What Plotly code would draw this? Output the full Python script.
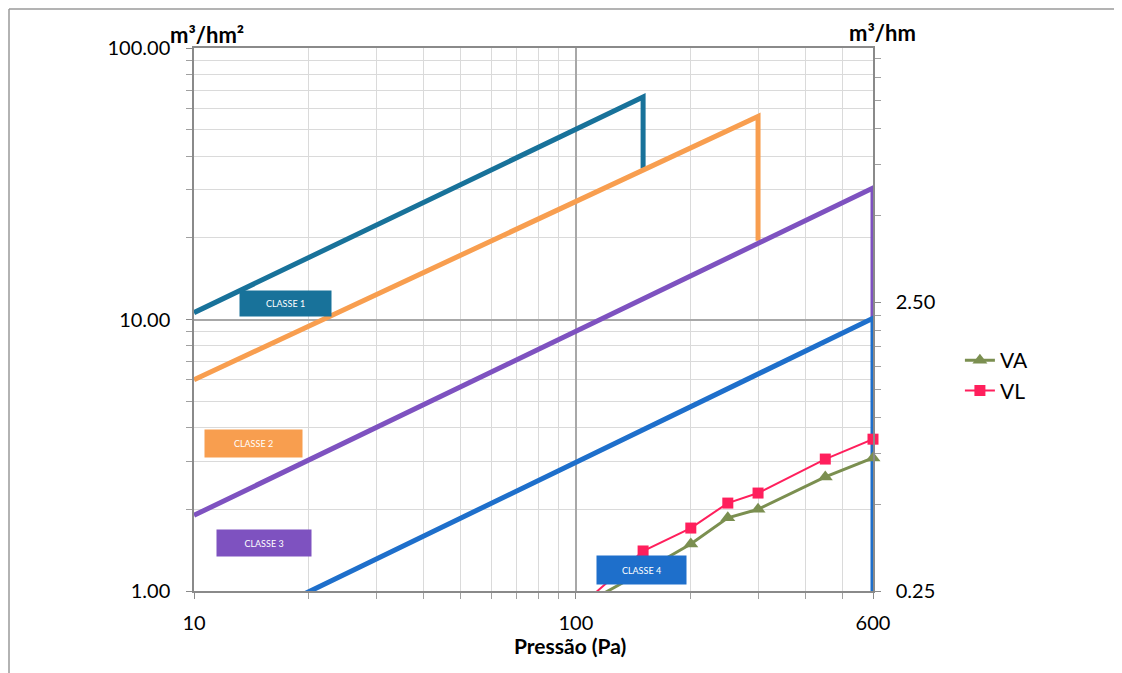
import math
import plotly.graph_objects as go

# ---------------- data ----------------
classe1_p = [10, 150, 150]
classe1_q = [10.6, 66, 36]
classe2_p = [10, 300, 300]
classe2_q = [6.0, 56, 19.5]
classe3_p = [10, 600, 600]
classe3_q = [1.9, 30.5, 10.1]
classe4_p = [10, 600, 600]
classe4_q = [0.62, 10.1, 0.2]

ensaio_p = [100, 150, 200, 250, 300, 450, 600]
va = [0.86, 1.18, 1.49, 1.86, 2.0, 2.63, 3.09]        # m3/hm2 (left axis)
vl = [0.215, 0.344, 0.413, 0.504, 0.546, 0.716, 0.839]  # m3/hm (right axis)

class_labels = ["CLASSE 1", "CLASSE 2", "CLASSE 3", "CLASSE 4"]
x_tickvals = [10, 100, 600]
x_ticktext = ["10", "100", "600"]
y_tickvals = [1, 10, 100]
y_ticktext = ["1.00", "10.00", "100.00"]
y2_tickvals = [0.25, 2.5, 25]
y2_ticktext = ["0.25", "2.50", "25.00"]

# ---------------- styles ----------------
C1 = "#18729a"
C2 = "#f89e4f"
C3 = "#7e52c0"
C4 = "#1e6fcb"
CVA = "#7b8f50"
CVL = "#ff1f5c"
FONT = "Lato"

fig = go.Figure()
for p, q, c in [(classe1_p, classe1_q, C1), (classe2_p, classe2_q, C2),
                (classe3_p, classe3_q, C3), (classe4_p, classe4_q, C4)]:
    fig.add_trace(go.Scatter(x=p, y=q, mode="lines", line=dict(color=c, width=5),
                             showlegend=False, hoverinfo="skip"))

fig.add_trace(go.Scatter(x=ensaio_p, y=va, name="VA", mode="lines+markers",
                         line=dict(color=CVA, width=3),
                         marker=dict(symbol="triangle-up", size=13, color=CVA),
                         cliponaxis=False))
fig.add_trace(go.Scatter(x=ensaio_p, y=vl, name="VL", mode="lines+markers", yaxis="y2",
                         line=dict(color=CVL, width=2),
                         marker=dict(symbol="square", size=11, color=CVL),
                         cliponaxis=False))

x_minor = [20, 30, 40, 50, 60, 70, 80, 90, 200, 300, 400, 500]
y_minor = [2, 3, 4, 5, 6, 7, 8, 9, 20, 30, 40, 50, 60, 70, 80, 90]
y2_minor = [0.5, 0.75, 1, 1.25, 1.5, 1.75, 2, 2.25, 5, 7.5, 10, 12.5, 15, 17.5]

# the page body has an 8px margin, so the figure starts at (8, 8) of the page
OFF = 8
W, H = 1122 - OFF, 673 - OFF
L, T = 194 - OFF, 48 - OFF
R = W - (873 - OFF)
B = H - (591 - OFF)
pw, ph = W - L - R, H - T - B

fig.update_layout(
    width=W, height=H,
    margin=dict(l=L, r=R, t=T, b=B, pad=0),
    paper_bgcolor="white", plot_bgcolor="white",
    font=dict(family=FONT, size=20, color="black"),
    xaxis=dict(type="log", range=[1, math.log10(600)],
               tickmode="array", tickvals=x_tickvals, ticktext=x_ticktext,
               ticks="outside", ticklen=6, tickcolor="#8a8a8a",
               ticklabelstandoff=7,
               showgrid=True, gridcolor="#a8a8a8", gridwidth=1.5,
               showline=True, linecolor="#8a8a8a", linewidth=1.5, mirror=True,
               zeroline=False,
               minor=dict(tickmode="array", tickvals=x_minor, ticks="outside", ticklen=6,
                          tickcolor="#a0a0a0", showgrid=True, gridcolor="#dadada",
                          gridwidth=1)),
    yaxis=dict(type="log", range=[0, 2],
               tickmode="array", tickvals=y_tickvals, ticktext=y_ticktext,
               ticks="outside", ticklen=6, tickcolor="#8a8a8a",
               ticklabelstandoff=12,
               showgrid=True, gridcolor="#a8a8a8", gridwidth=1.5,
               showline=True, linecolor="#8a8a8a", linewidth=1.5,
               zeroline=False,
               minor=dict(tickmode="array", tickvals=y_minor, ticks="outside", ticklen=6,
                          tickcolor="#a0a0a0", showgrid=True, gridcolor="#dadada",
                          gridwidth=1)),
    yaxis2=dict(type="log", overlaying="y", side="right",
                range=[math.log10(0.25), math.log10(0.25) + 543.5 / 289],
                tickmode="array", tickvals=y2_tickvals, ticktext=y2_ticktext,
                ticks="outside", ticklen=6, tickcolor="#8a8a8a",
                ticklabelstandoff=11,
                showgrid=False, showline=True, linecolor="#8a8a8a", linewidth=1.5,
                zeroline=False,
                minor=dict(tickmode="array", tickvals=y2_minor, ticks="outside",
                           ticklen=6, tickcolor="#a0a0a0", showgrid=False)),
    legend=dict(x=1.128, y=0.462, xanchor="left", yanchor="top",
                font=dict(size=21, family=FONT), bgcolor="rgba(0,0,0,0)",
                tracegroupgap=0),
    showlegend=True,
)

def px_to_paper(xp, yp):
    """page pixel -> paper coordinates"""
    return (xp - OFF - L) / pw, (H - B - (yp - OFF)) / ph

annots = []
# axis titles
for txt, xp, yp, fs in [("m³/hm²", 207, 34, 22), ("m³/hm", 882, 33, 22),
                        ("Pressão (Pa)", 570, 645, 21)]:
    x, y = px_to_paper(xp, yp)
    annots.append(dict(text="<b>%s</b>" % txt, x=x, y=y, xref="paper", yref="paper",
                       xanchor="center", yanchor="middle", showarrow=False,
                       font=dict(size=fs, family=FONT, color="black")))

# class labels
boxes = [(285.5, 303.5, 91, 25, C1), (253.5, 443.5, 97, 27, C2),
         (264, 543, 94, 26, C3), (641.5, 570, 89, 28, C4)]
for lab, (xp, yp, bw, bh, col) in zip(class_labels, boxes):
    x, y = px_to_paper(xp, yp)
    annots.append(dict(text=lab, x=x, y=y, xref="paper", yref="paper",
                       xanchor="center", yanchor="middle", showarrow=False,
                       width=bw, height=bh, bgcolor=col, borderpad=0,
                       font=dict(size=9, family=FONT, color="white")))
fig.update_layout(annotations=annots)

# outer chart frame: only its top and left edges fall inside the picture
fxa, fya = px_to_paper(9, 9)
fxb, fyb = px_to_paper(OFF + W, OFF + H)
fig.add_shape(type="line", xref="paper", yref="paper", x0=fxa, y0=fya, x1=fxb, y1=fya,
              line=dict(color="#9a9a9a", width=1.5), layer="below")
fig.add_shape(type="line", xref="paper", yref="paper", x0=fxa, y0=fya, x1=fxa, y1=fyb,
              line=dict(color="#9a9a9a", width=1.5), layer="below")

# keep the window free of scrollbars
fig.write_html("out.html",
               post_script="document.documentElement.style.overflow='hidden';"
                           "document.body.style.overflow='hidden';")
